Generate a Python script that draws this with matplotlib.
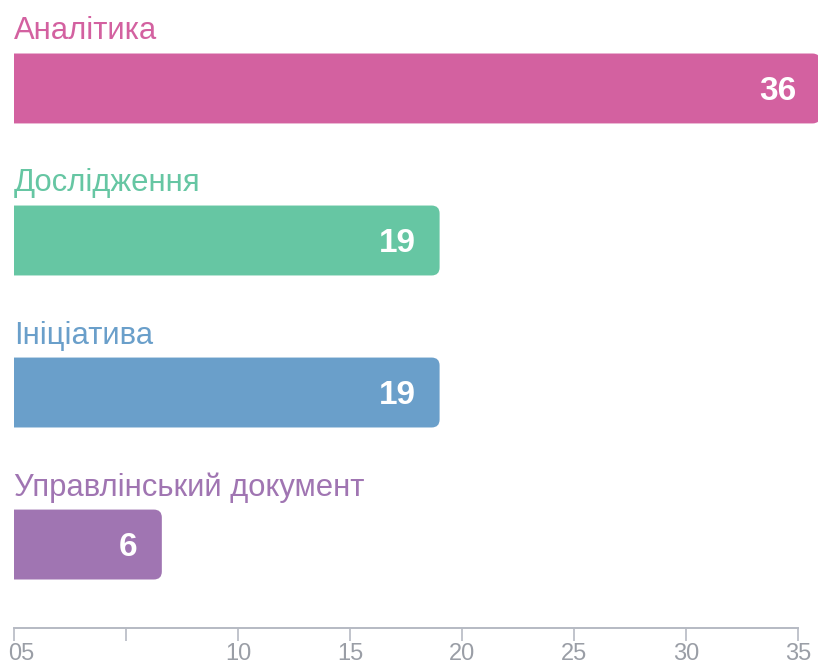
import matplotlib.pyplot as plt
from matplotlib.patches import PathPatch
from matplotlib.path import Path
import matplotlib.transforms as mtransforms

plt.rcParams["font.family"] = ["Liberation Sans", "DejaVu Sans"]

# data
categories = ["Аналітика", "Дослідження", "Ініціатива", "Управлінський документ"]
values = [36, 19, 19, 6]
bar_lengths = [36, 19, 19, 6.6]  # drawn length (smallest bar is a bit longer than its value)
colors = ["#D361A0", "#66C6A3", "#6A9FCA", "#A075B2"]
tick_values = [0, 5, 10, 15, 20, 25, 30, 35]
tick_labels = ["05", "", "10", "15", "20", "25", "30", "35"]

W, H, DPI = 818, 666, 100
fig = plt.figure(figsize=(W / DPI, H / DPI), dpi=DPI)
ax = fig.add_axes([14 / W, 1 - 628 / H, (798 - 14) / W, 628 / H])

ax.set_xlim(0, 35)
ax.set_ylim(3.549, -0.582)

bar_h = 0.46
radius_px = 8
rx = radius_px / ((798 - 14) / 35)
ry = radius_px / 152


def round_right(rect):
    """Turn a barh rectangle into a path with rounded right corners."""
    x0, y0 = rect.get_x(), rect.get_y()
    x1, y1 = x0 + rect.get_width(), y0 + rect.get_height()
    verts = [(x0, y0), (x1 - rx, y0), (x1, y0), (x1, y0 + ry),
             (x1, y1 - ry), (x1, y1), (x1 - rx, y1), (x0, y1), (x0, y0)]
    codes = [Path.MOVETO, Path.LINETO, Path.CURVE3, Path.CURVE3,
             Path.LINETO, Path.CURVE3, Path.CURVE3, Path.LINETO, Path.CLOSEPOLY]
    return PathPatch(Path(verts, codes), facecolor=rect.get_facecolor(),
                     edgecolor="none", clip_on=False)


idx = list(range(len(categories)))
bars = ax.barh(idx, bar_lengths, height=bar_h, color=colors)
for i, rect in enumerate(bars):
    ax.add_patch(round_right(rect))
    rect.set_visible(False)
    ax.annotate(str(values[i]), (bar_lengths[i], i), xytext=(-24, -3),
                textcoords="offset pixels", ha="right", va="center",
                color="white", fontsize=24, fontweight="bold",
                annotation_clip=False)
    ax.text(0, i - 0.375, categories[i], ha="left", va="center",
            color=colors[i], fontsize=22.3)

for side in ["top", "right", "left"]:
    ax.spines[side].set_visible(False)
ax.spines["bottom"].set_color("#B6BAC3")
ax.spines["bottom"].set_linewidth(1.4)
ax.set_yticks([])
ax.set_xticks(tick_values)
ax.set_xticklabels(tick_labels)
ax.tick_params(axis="x", length=9, width=1.2, color="#B6BAC3",
               labelcolor="#9A9EA6", labelsize=17, pad=2)
first = ax.get_xticklabels()[0]
first.set_horizontalalignment("left")
first.set_transform(first.get_transform() +
                    mtransforms.ScaledTranslation(-6 / DPI, 0, fig.dpi_scale_trans))

fig.savefig("out.png", dpi=DPI)
